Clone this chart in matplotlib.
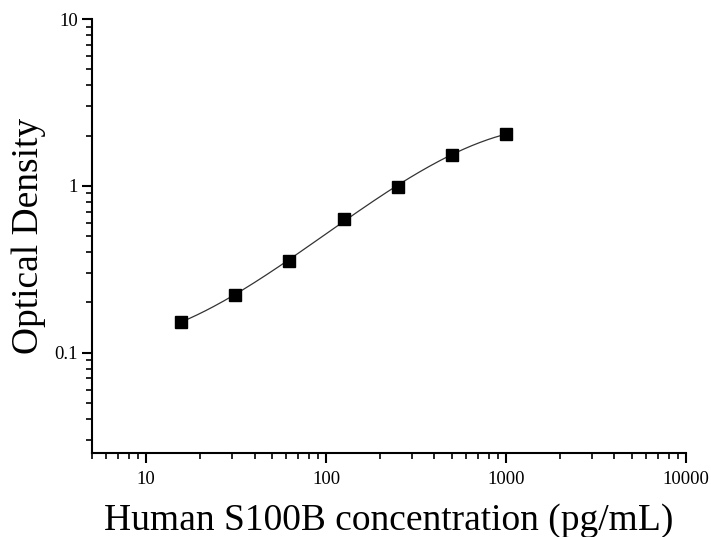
import numpy as np
import matplotlib
matplotlib.use("Agg")
import matplotlib.pyplot as plt
from matplotlib.ticker import LogLocator, NullFormatter, FixedLocator, FixedFormatter

# standard curve data
conc = [15.6, 31.25, 62.5, 125, 250, 500, 1000]
od = [0.153, 0.222, 0.356, 0.634, 0.99, 1.53, 2.05]

x_ticks = [10, 100, 1000, 10000]
x_tick_labels = ["10", "100", "1000", "10000"]
y_ticks = [0.1, 1, 10]
y_tick_labels = ["0.1", "1", "10"]

plt.rcParams['font.family'] = ['Liberation Serif', 'DejaVu Serif']

fig = plt.figure(figsize=(7.11, 5.37), dpi=100)
ax = fig.add_axes([0.1294, 0.1564, 0.8354, 0.8082])

# smooth fitted curve in log-log space
lx = np.log10(conc)
ly = np.log10(od)
coef = np.polyfit(lx, ly, 3)
xs = np.linspace(lx[0], lx[-1], 200)
ax.plot(10 ** xs, 10 ** np.polyval(coef, xs), color="#333333", lw=0.9, zorder=2)
ax.plot(conc, od, "s", color="black", markersize=8, zorder=3)

ax.set_xscale("log")
ax.set_yscale("log")
ax.set_xlim(5, 10000)
ax.set_ylim(0.025, 10)

ax.spines["top"].set_visible(False)
ax.spines["right"].set_visible(False)
ax.spines["left"].set_linewidth(1.5)
ax.spines["bottom"].set_linewidth(1.5)

ax.xaxis.set_major_locator(FixedLocator(x_ticks))
ax.xaxis.set_major_formatter(FixedFormatter(x_tick_labels))
ax.yaxis.set_major_locator(FixedLocator(y_ticks))
ax.yaxis.set_major_formatter(FixedFormatter(y_tick_labels))
ax.xaxis.set_minor_locator(LogLocator(base=10, subs=np.arange(2, 10)))
ax.yaxis.set_minor_locator(LogLocator(base=10, subs=np.arange(2, 10)))
ax.xaxis.set_minor_formatter(NullFormatter())
ax.yaxis.set_minor_formatter(NullFormatter())

ax.tick_params(which="major", direction="out", length=7, width=1.5, labelsize=13.5)
ax.tick_params(which="minor", direction="out", length=4, width=1.2)
ax.tick_params(axis="x", which="major", pad=6)
ax.tick_params(axis="y", which="major", pad=3)

ax.set_xlabel("Human S100B concentration (pg/mL)", fontsize=27, labelpad=11)
ax.set_ylabel("Optical Density", fontsize=27, labelpad=6)

fig.savefig("out.png", dpi=100)
